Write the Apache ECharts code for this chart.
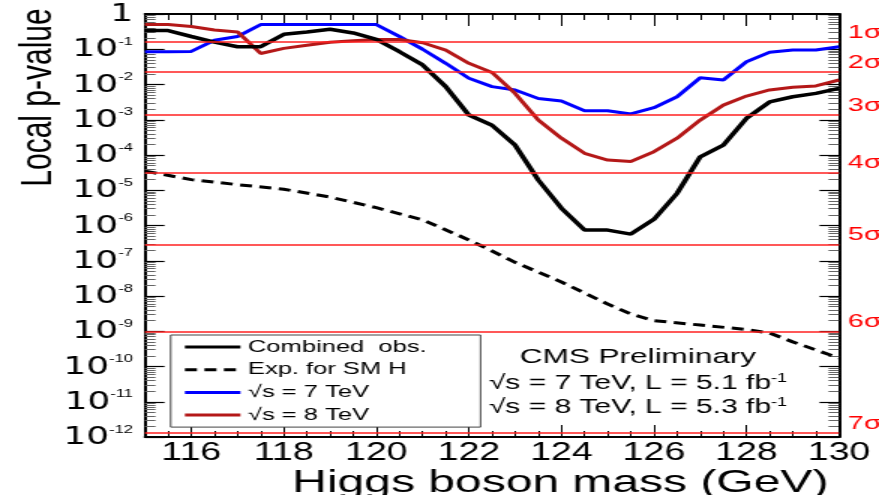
<!DOCTYPE html>
<html><head><meta charset="utf-8">
<script src="https://cdn.jsdelivr.net/npm/echarts@6/dist/echarts.min.js"></script>
<style>
html,body{margin:0;padding:0;background:#fff;overflow:hidden;width:879px;height:495px}
#c{width:586px;height:495px;transform:scaleX(1.5);transform-origin:0 0;}
</style>
</head><body><div id="c"></div>
<script>
// ---- data ----
const masses = [115,115.5,116,116.5,117,117.5,118,118.5,119,119.5,120,120.5,121,121.5,122,122.5,123,123.5,124,124.5,125,125.5,126,126.5,127,127.5,128,128.5,129,129.5,130];
const combinedObs = [0.34,0.34,0.23,0.16,0.118,0.118,0.265,0.31,0.37,0.29,0.19,0.085,0.036,0.0087,0.00136,0.0007,0.00019,1.95e-5,3.1e-6,7.4e-7,7.4e-7,5.7e-7,1.5e-6,8.2e-6,8.9e-5,1.9e-4,0.0011,0.0032,0.0045,0.0056,0.0078];
const sevenTeV = [0.085,0.085,0.087,0.18,0.23,0.5,0.5,0.5,0.5,0.5,0.5,0.23,0.1,0.04,0.015,0.0087,0.007,0.004,0.0034,0.0018,0.0018,0.00146,0.0022,0.0045,0.0156,0.0135,0.044,0.082,0.095,0.095,0.118];
const eightTeV = [0.5,0.5,0.44,0.35,0.31,0.076,0.106,0.13,0.157,0.175,0.19,0.19,0.153,0.095,0.04,0.022,0.0056,0.00098,0.0003,0.000112,7.2e-5,6.5e-5,0.000124,0.0003,0.00098,0.0026,0.0047,0.007,0.0083,0.0091,0.0134];
const expMasses = [115,116,117,118,119,120,121,122,122.5,123,124,125,125.5,126,127,128,128.5,129,130];
const expSMH = [3.5e-5,2.0e-5,1.44e-5,1.07e-5,6.4e-6,3.2e-6,1.45e-6,3.9e-7,1.9e-7,9e-8,2.5e-8,5.9e-9,3.1e-9,2.0e-9,1.5e-9,1.12e-9,8.9e-10,5e-10,1.74e-10];
const xTickLabels = [116,118,120,122,124,126,128,130];
const yTickExponents = [0,-1,-2,-3,-4,-5,-6,-7,-8,-9,-10,-11,-12];
const sigmaPValues = [0.1587,0.02275,1.35e-3,3.17e-5,2.87e-7,9.87e-10,1.28e-12];
const sigmaLabels = ['1σ','2σ','3σ','4σ','5σ','6σ','7σ'];
const legendNames = ['Combined  obs.','Exp. for SM H','√s = 7 TeV','√s = 8 TeV'];
const cmsLines = ['CMS Preliminary','√s = 7 TeV, L = 5.1 fb{sup|-1}','√s = 8 TeV, L = 5.3 fb{sup|-1}'];
const xTitle = 'Higgs boson mass (GeV)';
const yTitle = 'Local p-value';

// ---- axis helpers ----
const decadeValues = yTickExponents.map(e => Math.pow(10, e));
const minorValues = [];
yTickExponents.forEach(e => { if (e < 0) for (let k = 2; k <= 9; k++) minorValues.push(k * Math.pow(10, e)); });

const FONT = 'Liberation Sans';
const yBase = {type:'log', logBase:10, min:1e-12, max:1, splitLine:{show:false}};
const xBase = {type:'value', min:115, max:130, interval:0.5, splitLine:{show:false}};
const centered = {align:'center', verticalAlign:'middle', textAlign:'center', textVerticalAlign:'middle'};

const chart = echarts.init(document.getElementById('c'));
chart.setOption({
  animation:false,
  backgroundColor:'#fff',
  grid:{left:96.67, right:26.67, top:14, bottom:58, outerBoundsMode:'none', containLabel:false},
  xAxis:[
    Object.assign({}, xBase, {position:'bottom',
      axisLine:{show:true, lineStyle:{color:'#000', width:2}},
      axisTick:{show:true, inside:true, length:6, lineStyle:{color:'#000', width:1}},
      axisLabel:{show:true, customValues:xTickLabels, color:'#000', fontFamily:FONT, fontSize:25, margin:4}}),
    Object.assign({}, xBase, {position:'bottom',
      axisLine:{show:false},
      axisTick:{show:true, inside:true, length:12, customValues:xTickLabels, lineStyle:{color:'#000', width:1}},
      axisLabel:{show:false}}),
    Object.assign({}, xBase, {position:'top',
      axisLine:{show:true, lineStyle:{color:'#000', width:2}},
      axisTick:{show:true, inside:true, length:6, lineStyle:{color:'#000', width:1}},
      axisLabel:{show:false}}),
    Object.assign({}, xBase, {position:'top',
      axisLine:{show:false},
      axisTick:{show:true, inside:true, length:12, customValues:xTickLabels, lineStyle:{color:'#000', width:1}},
      axisLabel:{show:false}})
  ],
  yAxis:[
    Object.assign({}, yBase, {position:'left',
      axisLine:{show:true, lineStyle:{color:'#000', width:2}},
      axisTick:{show:true, inside:true, length:13, customValues:decadeValues, lineStyle:{color:'#000', width:1.2}},
      axisLabel:{show:true, customValues:decadeValues, margin:8,
        formatter:function(v){ const e = Math.round(Math.log10(v)); return e === 0 ? '{b|1}' : '{b|10}{s|' + e + '}'; },
        rich:{
          b:{fontFamily:'DejaVu Sans', fontSize:24, color:'#000', lineHeight:26, verticalAlign:'bottom'},
          s:{fontFamily:FONT, fontSize:11, color:'#000', lineHeight:13, verticalAlign:'top'}
        }}}),
    Object.assign({}, yBase, {position:'left',
      axisLine:{show:false},
      axisTick:{show:true, inside:true, length:7, customValues:minorValues, lineStyle:{color:'#666', width:1}},
      axisLabel:{show:false}}),
    Object.assign({}, yBase, {position:'right',
      axisLine:{show:true, lineStyle:{color:'#000', width:2}},
      axisTick:{show:true, inside:true, length:13, customValues:decadeValues, lineStyle:{color:'#000', width:1.2}},
      axisLabel:{show:true, customValues:sigmaPValues, margin:6, color:'#ff0000', fontFamily:FONT, fontSize:19, verticalAlign:'bottom',
        formatter:function(v){
          let best = 0, d = Infinity;
          sigmaPValues.forEach((p,i) => { const dd = Math.abs(Math.log10(p) - Math.log10(v)); if (dd < d) { d = dd; best = i; } });
          return sigmaLabels[best];
        }}}),
    Object.assign({}, yBase, {position:'right',
      axisLine:{show:false},
      axisTick:{show:true, inside:true, length:7, customValues:minorValues, lineStyle:{color:'#666', width:1}},
      axisLabel:{show:false}})
  ],
  legend:{
    show:true, orient:'vertical', left:113.8, top:335,
    itemWidth:37, itemHeight:14, itemGap:2.7,
    padding:[2,36,2,8],
    borderColor:'#444', borderWidth:1, backgroundColor:'#fff',
    selectedMode:false,
    itemStyle:{opacity:0},
    lineStyle:{width:3},
    textStyle:{fontFamily:FONT, fontSize:17, color:'#000', lineHeight:20},
    data:legendNames
  },
  graphic:[
    {type:'text', x:25.3, y:97.5, rotation:Math.PI/2, z:100,
      style:Object.assign({text:yTitle, font:'30px "Liberation Sans"', fill:'#000'}, centered)},
    {type:'text', x:552.3, y:483, z:100,
      style:{text:xTitle, font:'32px "Liberation Sans"', fill:'#000', align:'right', verticalAlign:'middle', textAlign:'right', textVerticalAlign:'middle'}},
    {type:'text', x:425.3, y:357, z:100,
      style:Object.assign({text:cmsLines[0], font:'21px "Liberation Sans"', fill:'#000'}, centered)},
    {type:'text', x:425.3, y:383, z:100,
      style:Object.assign({text:cmsLines[1], font:'20px "Liberation Sans"', fill:'#000',
        rich:{sup:{fontFamily:FONT, fontSize:12, fill:'#000', verticalAlign:'top', lineHeight:12}}}, centered)},
    {type:'text', x:425.3, y:407, z:100,
      style:Object.assign({text:cmsLines[2], font:'20px "Liberation Sans"', fill:'#000',
        rich:{sup:{fontFamily:FONT, fontSize:12, fill:'#000', verticalAlign:'top', lineHeight:12}}}, centered)}
  ],
  series:[
    {name:'sigma', type:'line', xAxisIndex:0, yAxisIndex:0, data:[], z:1, silent:true,
      markLine:{silent:true, symbol:'none', animation:false, precision:20, label:{show:false},
        lineStyle:{color:'#ff2020', width:1.5, type:'solid'},
        data:sigmaPValues.map(p => ({yAxis:p}))}},
    {name:legendNames[2], type:'line', xAxisIndex:0, yAxisIndex:0, symbol:'none', z:3,
      lineStyle:{color:'#0000ff', width:3}, itemStyle:{color:'#0000ff'},
      data:masses.map((m,i) => [m, sevenTeV[i]])},
    {name:legendNames[3], type:'line', xAxisIndex:0, yAxisIndex:0, symbol:'none', z:3,
      lineStyle:{color:'#b41818', width:3}, itemStyle:{color:'#b41818'},
      data:masses.map((m,i) => [m, eightTeV[i]])},
    {name:legendNames[1], type:'line', xAxisIndex:0, yAxisIndex:0, symbol:'none', z:3,
      lineStyle:{color:'#000', width:3, type:[8,5]}, itemStyle:{color:'#000'},
      data:expMasses.map((m,i) => [m, expSMH[i]])},
    {name:legendNames[0], type:'line', xAxisIndex:0, yAxisIndex:0, symbol:'none', z:4,
      lineStyle:{color:'#000', width:3.5}, itemStyle:{color:'#000'},
      data:masses.map((m,i) => [m, combinedObs[i]])}
  ]
});
</script>
</body></html>
